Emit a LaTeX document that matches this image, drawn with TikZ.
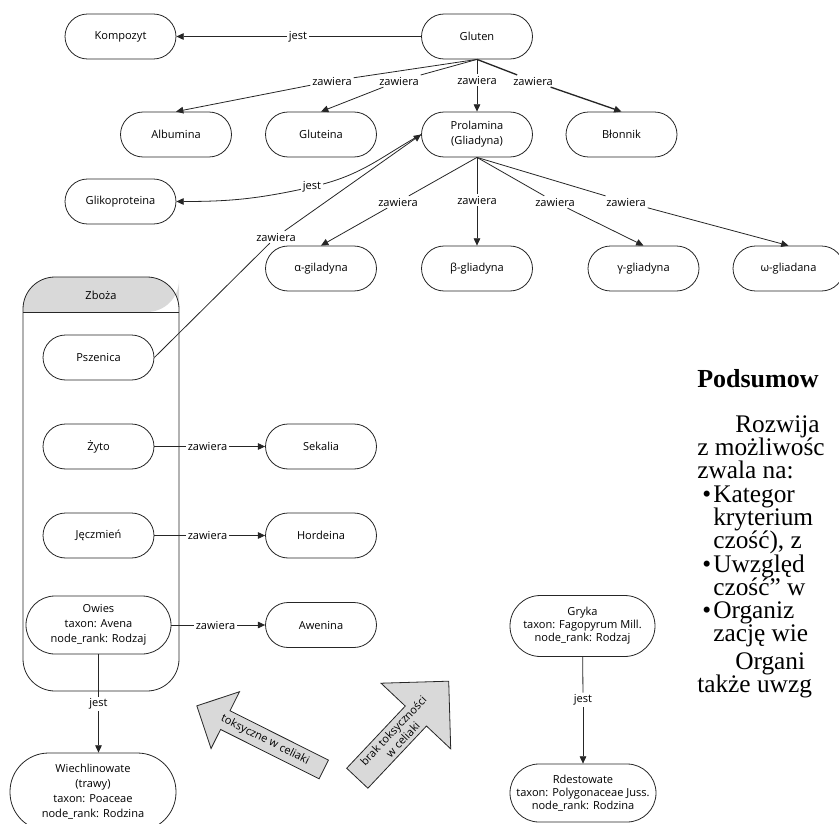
\documentclass[tikz,border=0pt]{standalone}
\usepackage{fontspec}
\usepackage{tikz}
\usetikzlibrary{arrows.meta,shapes.arrows}
\newfontfamily\cmapfont{Open Sans}
\newfontfamily\pagefont{Liberation Serif}

\begin{document}
\begin{tikzpicture}[x=0.75pt,y=-0.75pt]
	\tikzstyle{concept}=[rectangle,rounded corners=16.9pt,draw=black!85,line width=0.6pt,minimum width=83.25pt,minimum height=33.75pt,inner sep=2pt,align=center,font=\cmapfont\fontsize{8.3}{11.3}\selectfont]
	\tikzstyle{taxon}=[concept,rounded corners=21.7pt,minimum width=108.75pt,minimum height=43.5pt]
	\tikzstyle{link}=[inner sep=1.3pt,font=\cmapfont\fontsize{8.3}{10}\selectfont]
	\tikzstyle{edge}=[draw=black!85,line width=0.6pt]
	\tikzstyle{arr}=[edge,-{Triangle[length=5.5pt,width=5pt]}]
	\tikzstyle{bigarrow}=[single arrow,draw=black!85,fill=black!15,line width=0.6pt,align=center,font=\cmapfont\fontsize{8.3}{9.8}\selectfont]
	\tikzstyle{pagetext}=[anchor=base west,inner sep=0pt,font=\pagefont\fontsize{19}{18}\selectfont]

	\useasboundingbox (0,0) rectangle (839,824);
	\clip (0,0) rectangle (839,824);

	% grupa Zboza
	\fill[black!15,rounded corners=24pt] (23,312) |- (101,277) -| (179,312) [sharp corners] -- cycle;
	\draw[edge,rounded corners=24pt] (23,277) rectangle (179,691);
	\draw[edge] (23,312) -- (179,312);
	\node[link] (zboza) at (101,295) {Zboża};

	% pojecia
	\node[concept] (Kompozyt) at (120.5,36.5) {Kompozyt};
	\node[concept] (Gluten) at (477,36.5) {Gluten};
	\node[concept] (Albumina) at (176,134.5) {Albumina};
	\node[concept] (Gluteina) at (321,134.5) {Gluteina};
	\node[concept] (Prolamina) at (477,134.5) {Prolamina\\(Gliadyna)};
	\node[concept] (Blonnik) at (621.5,134.5) {Błonnik};
	\node[concept] (Glikoproteina) at (120.5,201.5) {Glikoproteina};
	\node[concept] (alfa) at (321,268.5) {α-giladyna};
	\node[concept] (beta) at (477,268.5) {β-gliadyna};
	\node[concept] (gamma) at (643.5,268.5) {γ-gliadyna};
	\node[concept] (omega) at (788.5,268.5) {ω-gliadana};
	\node[concept] (Pszenica) at (98.5,357.5) {Pszenica};
	\node[concept] (Zyto) at (98.5,446.5) {Żyto};
	\node[concept] (Jeczmien) at (98.5,535.5) {Jęczmień};
	\node[taxon] (Owies) at (98.5,625) {Owies\\taxon: Avena\\node\_rank: Rodzaj};
	\node[concept] (Sekalia) at (321,446.5) {Sekalia};
	\node[concept] (Hordeina) at (321,535.5) {Hordeina};
	\node[concept] (Awenina) at (321,625) {Awenina};
	\node[taxon,rounded corners=29pt,minimum width=124.5pt,minimum height=58.5pt] (Wiechlinowate) at (93,792) {Wiechlinowate\\(trawy)\\taxon: Poaceae\\node\_rank: Rodzina};
	\node[taxon,rounded corners=22.8pt,minimum height=45.75pt,font=\cmapfont\fontsize{8.3}{9.8}\selectfont] (Gryka) at (582.5,626) {Gryka\\taxon: Fagopyrum Mill.\\node\_rank: Rodzaj};
	\node[taxon,minimum width=109.5pt,font=\cmapfont\fontsize{8.3}{9.8}\selectfont] (Rdestowate) at (583,793) {Rdestowate\\taxon: Polygonaceae Juss.\\node\_rank: Rodzina};

	% frazy laczace
	\node[link] (lKomp) at (298,36.5) {jest};
	\node[link] (lAlb) at (332,81) {zawiera};
	\node[link] (lGlut) at (399,81) {zawiera};
	\node[link] (lProl) at (477,80) {zawiera};
	\node[link] (lBlon) at (533,81) {zawiera};
	\node[link] (lGliko) at (312,187) {jest};
	\node[link] (lAlfa) at (398,202) {zawiera};
	\node[link] (lBeta) at (477,200) {zawiera};
	\node[link] (lGamma) at (555,202) {zawiera};
	\node[link] (lOmega) at (626,202) {zawiera};
	\node[link] (lPsz) at (276,237) {zawiera};
	\node[link] (lZyto) at (207.5,446.5) {zawiera};
	\node[link] (lJecz) at (207.5,535.5) {zawiera};
	\node[link] (lOwies) at (215.5,625) {zawiera};
	\node[link] (lWiech) at (98.5,704) {jest};
	\node[link] (lGryka) at (583,700) {jest};

	% polaczenia
	\draw[edge] (Gluten) -- (lKomp);
	\draw[arr] (lKomp) -- (Kompozyt);
	\draw[edge] (Gluten.south) -- (lAlb);
	\draw[arr] (lAlb) -- (Albumina.north);
	\draw[edge] (Gluten.south) -- (lGlut);
	\draw[arr] (lGlut) -- (Gluteina.north);
	\draw[edge] (Gluten.south) -- (lProl);
	\draw[arr] (lProl) -- (Prolamina.north);
	\draw[edge,line width=1pt] (Gluten.south) -- (lBlon);
	\draw[arr,line width=1pt] (lBlon) -- (Blonnik.north);
	\draw[edge] (Prolamina.west) to[out=209,in=15] (lGliko);
	\draw[arr] (lGliko) to[out=192,in=0] (Glikoproteina.east);
	\draw[edge] (Prolamina.south) -- (lAlfa);
	\draw[arr] (lAlfa) -- (alfa.north);
	\draw[edge] (Prolamina.south) -- (lBeta);
	\draw[arr] (lBeta) -- (beta.north);
	\draw[edge] (Prolamina.south) -- (lGamma);
	\draw[arr] (lGamma) -- (gamma.north);
	\draw[edge] (Prolamina.south) -- (lOmega);
	\draw[arr] (lOmega) -- (omega.north);
	\draw[edge] (Pszenica.east) -- (lPsz);
	\draw[arr] (lPsz) -- (Prolamina.west);
	\draw[edge] (Zyto) -- (lZyto);
	\draw[arr] (lZyto) -- (Sekalia);
	\draw[edge] (Jeczmien) -- (lJecz);
	\draw[arr] (lJecz) -- (Hordeina);
	\draw[edge] (Owies) -- (lOwies);
	\draw[arr] (lOwies) -- (Awenina);
	\draw[edge] (Owies) -- (lWiech);
	\draw[arr] (lWiech) -- (lWiech |- Wiechlinowate.north);
	\draw[edge] (Gryka) -- (lGryka);
	\draw[arr] (lGryka) -- (Rdestowate);

	% strzalki blokowe
	\node[bigarrow,shape border rotate=180,rotate=-26.6,minimum height=106.5pt,inner ysep=3.4pt,single arrow head extend=16pt] (toks) at (265,740) {toksyczne w celiaki};
	\node[bigarrow,rotate=46.7,minimum height=100pt,inner ysep=2.5pt,single arrow head extend=25pt] (brak) at (398,735) {brak toksyczności\\w celiaki};

	% tekst strony
	\node[pagetext,font=\pagefont\bfseries\fontsize{19.5}{18}\selectfont] (head) at (697,387) {Podsumow};
	\node[pagetext] (t1) at (735,432) {Rozwija};
	\node[pagetext] (t2) at (697,455) {z możliwośc};
	\node[pagetext] (t3) at (697,478) {zwala na:};
	\node[pagetext] (b1) at (702,502) {\textbullet};
	\node[pagetext] (t4) at (713,502) {Kategor};
	\node[pagetext] (t5) at (713,525) {kryterium};
	\node[pagetext] (t6) at (713,548) {czość), z};
	\node[pagetext] (b2) at (702,572) {\textbullet};
	\node[pagetext] (t7) at (713,572) {Uwzględ};
	\node[pagetext] (t8) at (713,595) {czość” w};
	\node[pagetext] (b3) at (702,618) {\textbullet};
	\node[pagetext] (t9) at (713,618) {Organiz};
	\node[pagetext] (t10) at (713,641) {zację wie};
	\node[pagetext] (t11) at (735,669) {Organi};
	\node[pagetext] (t12) at (697,692) {także uwzg};
\end{tikzpicture}
\end{document}
